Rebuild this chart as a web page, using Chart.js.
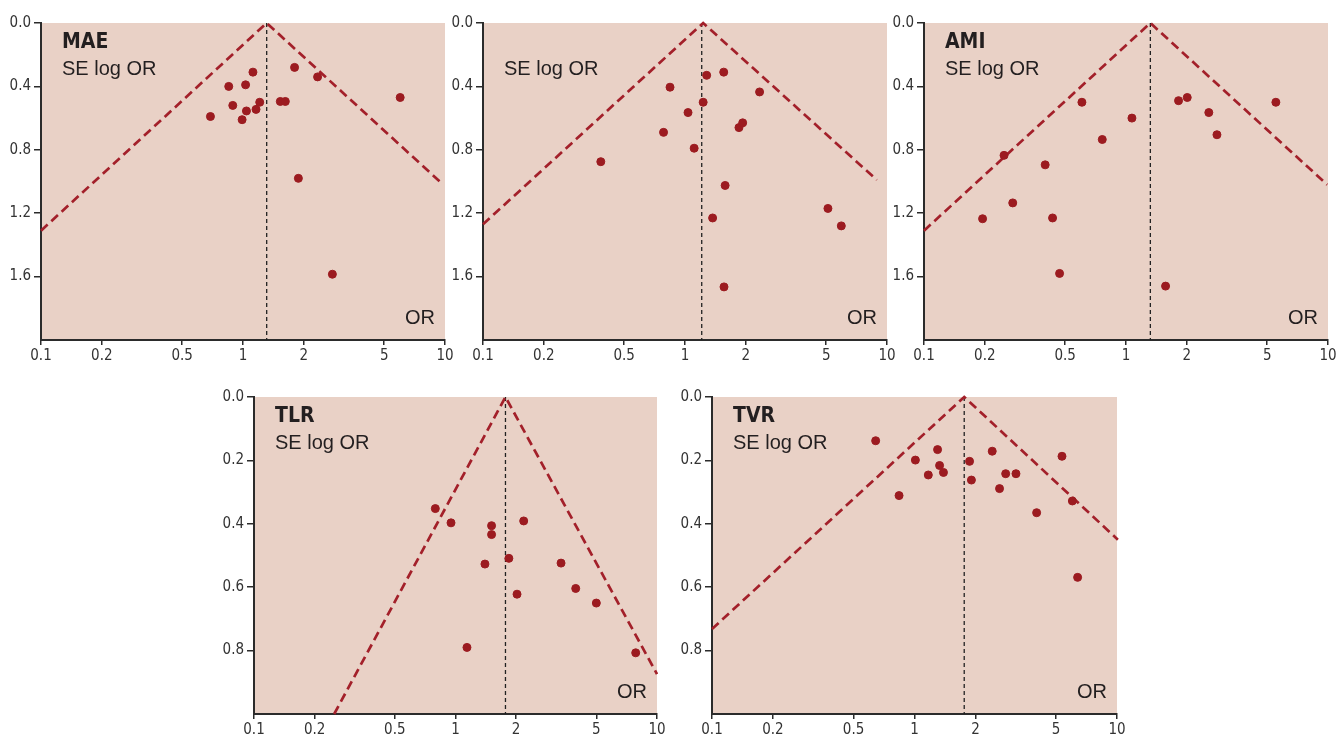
<!DOCTYPE html>
<html>
<head>
<meta charset="utf-8">
<script src="https://cdn.jsdelivr.net/npm/chart.js@4"></script>
<style>
body{margin:0;background:#fff;width:1337px;height:736px;overflow:hidden;position:relative;}
.box{position:absolute;}
</style>
</head>
<body>

<div class="box" id="b1"><canvas id="c1"></canvas></div>
<div class="box" id="b2"><canvas id="c2"></canvas></div>
<div class="box" id="b3"><canvas id="c3"></canvas></div>
<div class="box" id="b4"><canvas id="c4"></canvas></div>
<div class="box" id="b5"><canvas id="c5"></canvas></div>

<script>

// tick labels
const xTicks = [0.1, 0.2, 0.5, 1, 2, 5, 10];
const yTicksTop = [0, 0.4, 0.8, 1.2, 1.6];
const yTicksBottom = [0, 0.2, 0.4, 0.6, 0.8];

// MAE: odds ratio and SE log OR per study
const maeOR = [0.69, 0.85, 0.89, 1.03, 0.99, 1.04, 1.12, 1.16, 1.21, 1.53, 1.62, 1.80, 2.34, 6.0, 1.88, 2.77];
const maeSE = [0.59, 0.40, 0.52, 0.39, 0.61, 0.555, 0.31, 0.545, 0.50, 0.495, 0.495, 0.28, 0.34, 0.47, 0.98, 1.585];
const maePooled = 1.31;
const maeFunnel = [[0.1, 1.31], [1.31, 0], [9.8, 1.02]];

// no title in the reference for this one
const p2OR = [0.383, 0.783, 0.843, 1.035, 1.11, 1.23, 1.28, 1.37, 1.555, 1.58, 1.56, 1.85, 1.93, 2.34, 5.10, 5.94];
const p2SE = [0.875, 0.69, 0.405, 0.565, 0.79, 0.50, 0.33, 1.23, 0.31, 1.025, 1.665, 0.66, 0.63, 0.435, 1.17, 1.28];
const p2Pooled = 1.21;
const p2Funnel = [[0.1, 1.27], [1.23, 0], [8.9, 0.99]];

// AMI
const amiOR = [0.195, 0.249, 0.275, 0.398, 0.433, 0.469, 0.605, 0.763, 1.07, 1.57, 1.82, 2.01, 2.57, 2.82, 5.52];
const amiSE = [1.235, 0.835, 1.135, 0.895, 1.23, 1.58, 0.50, 0.735, 0.60, 1.66, 0.49, 0.47, 0.565, 0.705, 0.50];
const amiPooled = 1.32;
const amiFunnel = [[0.1, 1.31], [1.32, 0], [9.9, 1.02]];

// TLR
const tlrOR = [0.794, 0.95, 1.51, 1.51, 1.40, 1.84, 2.18, 2.02, 1.14, 3.34, 3.95, 5.0, 7.84];
const tlrSE = [0.352, 0.397, 0.406, 0.434, 0.527, 0.509, 0.391, 0.622, 0.79, 0.524, 0.604, 0.65, 0.807];
const tlrPooled = 1.77;
const tlrFunnel = [[0.25, 1.0], [1.77, 0], [10, 0.874]];

// TVR
const tvrOR = [0.643, 0.839, 1.01, 1.17, 1.30, 1.33, 1.39, 1.87, 1.91, 2.42, 2.63, 2.82, 3.17, 4.01, 5.35, 6.02, 6.39];
const tvrSE = [0.138, 0.311, 0.199, 0.246, 0.166, 0.216, 0.238, 0.203, 0.262, 0.171, 0.289, 0.242, 0.242, 0.365, 0.187, 0.328, 0.569];
const tvrPooled = 1.76;
const tvrFunnel = [[0.1, 0.732], [1.76, 0], [10.1, 0.45]];

const RED = "#9c1b20";
const DASH_RED = "#a3202a";
const AXIS = "#2b2b2b";
const BG = "#e9d1c6";
const NARROW = "'Liberation Sans Narrow', 'DejaVu Sans Condensed', sans-serif";
const SANS = "'Liberation Sans', Arial, sans-serif";

const panelBg = {
id: "panelBg",
beforeDraw(chart){
const a = chart.chartArea;
const ctx = chart.ctx;
ctx.save();
ctx.fillStyle = BG;
ctx.fillRect(a.left, a.top, a.right - a.left, a.bottom - a.top);
ctx.restore();
}
};

const panelText = {
id: "panelText",
afterDraw(chart, args, opts){
const a = chart.chartArea;
const ctx = chart.ctx;
ctx.save();
ctx.fillStyle = "#231f20";
ctx.textBaseline = "alphabetic";
ctx.textAlign = "left";
if(opts.title){
ctx.font = "bold 21px " + NARROW;
ctx.fillText(opts.title, a.left + 21, a.top + 25);
}
ctx.font = "20px " + SANS;
ctx.fillText("SE log OR", a.left + 21, a.top + 52);
ctx.textAlign = "right";
ctx.fillText("OR", a.right - 10, a.bottom - 16);
ctx.restore();
}
};

function pts(xs, ys){
return xs.map((x, i) => ({x:x, y:ys[i]}));
}

function makePanel(id, plot, title, ors, ses, pooled, funnel, yMax, yTicks){

const padTop = 12, padRight = 12, yW = 41, xH = 27;
const box = document.getElementById("b" + id);
const w = (plot.r - plot.l) + yW + padRight;
const h = (plot.b - plot.t) + padTop + xH;
box.style.left = (plot.l - yW) + "px";
box.style.top = (plot.t - padTop) + "px";
box.style.width = w + "px";
box.style.height = h + "px";

new Chart(document.getElementById("c" + id), {
type: "scatter",
data: {
datasets: [
{
data: pts(ors, ses),
backgroundColor: RED,
borderColor: RED,
pointRadius: 4,
pointHoverRadius: 4,
showLine: false,
order: 0
},
{
data: funnel.map(p => ({x:p[0], y:p[1]})),
showLine: true,
borderColor: DASH_RED,
borderWidth: 2.7,
borderDash: [9, 5],
pointRadius: 0,
fill: false,
order: 1
},
{
data: [{x:pooled, y:0}, {x:pooled, y:yMax}],
showLine: true,
borderColor: "#222",
borderWidth: 1.3,
borderDash: [4, 3],
pointRadius: 0,
fill: false,
order: 2
}
]
},
options: {
responsive: true,
maintainAspectRatio: false,
animation: false,
clip: false,
layout: {padding: {top: padTop, right: padRight, left: 0, bottom: 0}},
plugins: {
legend: {display: false},
tooltip: {enabled: false},
panelText: {title: title}
},
scales: {
x: {
type: "logarithmic",
min: 0.1,
max: 10,
afterBuildTicks: s => { s.ticks = xTicks.map(v => ({value: v})); },
afterFit: s => { s.height = xH; },
ticks: {
color: "#333",
font: {family: NARROW, size: 15},
padding: 2,
maxRotation: 0,
autoSkip: false,
callback: v => String(v)
},
grid: {drawOnChartArea: false, drawTicks: true, tickLength: 5, color: AXIS, lineWidth: 1.5},
border: {display: true, color: AXIS, width: 2}
},
y: {
type: "linear",
reverse: true,
min: 0,
max: yMax,
afterBuildTicks: s => { s.ticks = yTicks.map(v => ({value: v})); },
afterFit: s => { s.width = yW; },
ticks: {
color: "#333",
font: {family: NARROW, size: 15},
padding: 3,
callback: v => v.toFixed(1)
},
grid: {drawOnChartArea: false, drawTicks: true, tickLength: 7, color: AXIS, lineWidth: 1.5},
border: {display: true, color: AXIS, width: 2}
}
}
},
plugins: [panelBg, panelText]
});

}

makePanel(1, {l:41, r:445, t:23, b:340}, "MAE", maeOR, maeSE, maePooled, maeFunnel, 2.0, yTicksTop);
makePanel(2, {l:483, r:887, t:23, b:340}, "", p2OR, p2SE, p2Pooled, p2Funnel, 2.0, yTicksTop);
makePanel(3, {l:924, r:1328, t:23, b:340}, "AMI", amiOR, amiSE, amiPooled, amiFunnel, 2.0, yTicksTop);
makePanel(4, {l:254, r:657, t:397, b:714}, "TLR", tlrOR, tlrSE, tlrPooled, tlrFunnel, 1.0, yTicksBottom);
makePanel(5, {l:712, r:1117, t:397, b:714}, "TVR", tvrOR, tvrSE, tvrPooled, tvrFunnel, 1.0, yTicksBottom);

</script>
</body>
</html>
